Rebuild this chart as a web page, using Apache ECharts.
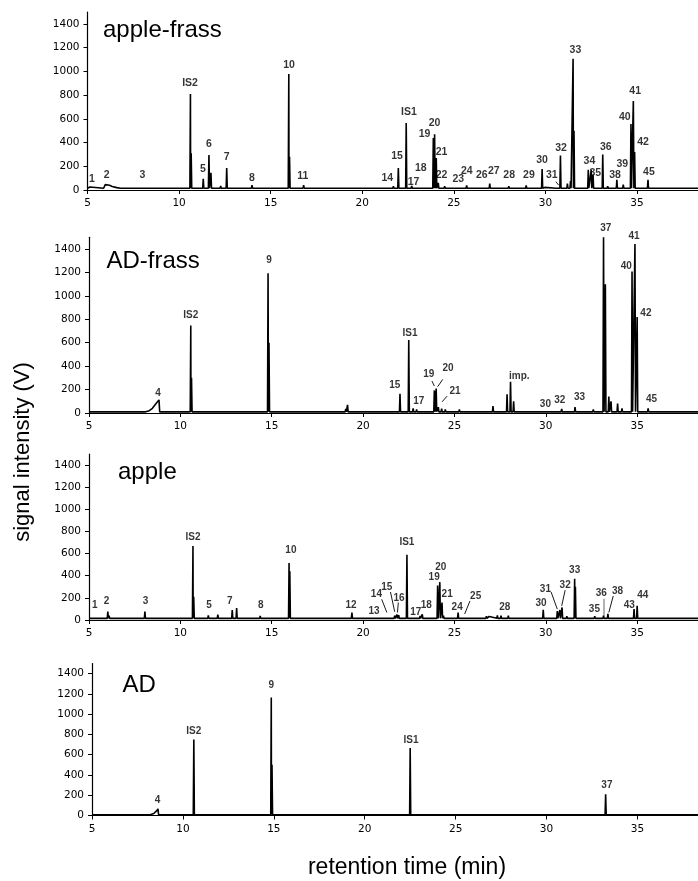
<!DOCTYPE html>
<html><head><meta charset="utf-8">
<script src="https://cdn.jsdelivr.net/npm/echarts@6/dist/echarts.min.js"></script>
<style>html,body{margin:0;padding:0;background:#fff}#c{width:698px;height:881px}</style>
</head><body><div id="c"></div>
<script>
// ---------- axis ticks ----------
const xTicks = [5, 10, 15, 20, 25, 30, 35];
const yTicks = [0, 200, 400, 600, 800, 1000, 1200, 1400];
const panelNames = ['apple-frass', 'AD-frass', 'apple', 'AD'];

// ---------- apple-frass ----------
const appleFrassBase = 15;
const appleFrassRT = [5.13, 7.98, 8.95, 9.9, 10.4, 10.62, 10.66, 11.32, 11.63, 11.74, 12.27, 12.6, 13.5, 13.98, 14.8, 15.99, 16.03, 16.8, 17.44, 18.2, 18.5, 19.0, 20.5, 21.1, 21.45, 21.7, 21.97, 22.4, 22.7, 23.05, 23.25, 23.88, 23.95, 24.04, 24.15, 24.5, 25.24, 25.7, 26.5, 26.8, 26.96, 28.0, 28.2, 28.95, 29.3, 29.82, 29.97, 30.6, 30.82, 31.2, 31.37, 31.51, 31.56, 32.34, 32.5, 32.6, 33.13, 33.4, 33.9, 34.25, 34.67, 34.8, 34.87, 35.2, 35.6, 36.2];
const appleFrassH  = [25, 28, 30, 22, 30, 810, 310, 95, 295, 145, 35, 185, 28, 40, 22, 978, 280, 40, 28, 22, 22, 20, 22, 22, 28, 32, 185, 565, 35, 25, 30, 438, 470, 270, 60, 32, 25, 38, 22, 25, 55, 32, 28, 38, 22, 177, 22, 30, 290, 55, 75, 1105, 500, 170, 170, 130, 300, 32, 85, 45, 556, 750, 320, 30, 85, 20];
const appleFrassHumpRT = [5.88, 5.97, 6.05, 6.2, 6.35, 6.6, 6.8];
const appleFrassHumpH  = [15, 45, 52, 40, 30, 20, 15];
const appleFrassLabelText = ['1', '2', '3', 'IS2', '5', '6', '7', '8', '10', '11', '14', '15', 'IS1', '17', '18', '19', '20', '21', '22', '23', '24', '26', '27', '28', '29', '30', '31', '32', '33', '34', '35', '36', '38', '39', '40', '41', '42', '45'];
const appleFrassLabelRT   = [5.24, 6.05, 8.0, 10.6, 11.3, 11.63, 12.6, 13.98, 16.0, 16.75, 21.37, 21.9, 22.55, 22.8, 23.2, 23.4, 23.95, 24.33, 24.33, 25.24, 25.71, 26.53, 27.18, 28.02, 29.1, 29.82, 30.35, 30.85, 31.64, 32.4, 32.72, 33.3, 33.8, 34.2, 34.33, 34.9, 35.33, 35.65];
const appleFrassLabelV    = [93, 126, 126, 900, 175, 390, 280, 100, 1050, 118, 100, 287, 655, 70, 185, 470, 565, 320, 126, 93, 160, 126, 160, 126, 126, 253, 126, 352, 1175, 245, 145, 365, 126, 215, 615, 835, 405, 150];
const appleFrassLeaders = [[30.57, 70, 30.72, 42]];

// ---------- AD-frass ----------
const adFrassBase = 10;
const adFrassRT = [10.57, 10.61, 14.8, 14.85, 16.48, 19.05, 19.15, 20.06, 20.97, 22.02, 22.5, 22.74, 22.93, 23.9, 23.95, 24.0, 24.12, 24.3, 24.5, 24.84, 25.27, 27.11, 27.88, 28.07, 28.24, 29.03, 29.86, 30.87, 31.6, 32.6, 33.16, 33.26, 33.45, 33.57, 33.93, 34.17, 34.72, 34.88, 35.0, 35.6];
const adFrassH  = [747, 300, 1193, 600, 25, 35, 70, 25, 20, 164, 624, 40, 30, 193, 185, 210, 50, 38, 30, 25, 30, 60, 160, 267, 100, 25, 25, 35, 50, 30, 1500, 1100, 140, 100, 80, 40, 1207, 1443, 819, 40];
const adFrassHumpRT = [8.1, 8.3, 8.47, 8.66, 8.83, 8.87];
const adFrassHumpH  = [10, 20, 40, 78, 112, 10];
const adFrassLabelText = ['4', 'IS2', '9', '15', 'IS1', '17', '19', '20', '21', 'imp.', '30', '32', '33', '37', '40', '41', '42', '45'];
const adFrassLabelRT   = [8.78, 10.57, 14.85, 21.73, 22.57, 23.05, 23.6, 24.65, 25.03, 28.55, 29.98, 30.77, 31.85, 33.28, 34.4, 34.83, 35.48, 35.79];
const adFrassLabelV    = [172, 834, 1302, 236, 681, 100, 330, 382, 187, 316, 78, 106, 135, 1580, 1250, 1509, 848, 115];
const adFrassLeaders = [[23.77, 273, 23.9, 230], [24.36, 287, 24.08, 224], [24.6, 144, 24.32, 95]];

// ---------- apple ----------
const appleBase = 15;
const appleRT = [5.15, 5.31, 5.5, 6.03, 6.1, 7.4, 8.06, 8.54, 10.69, 10.73, 11.53, 12.05, 12.84, 13.08, 14.37, 15.95, 15.99, 18.15, 19.39, 20.73, 21.3, 21.73, 21.85, 21.95, 22.4, 23.12, 23.24, 24.08, 24.2, 24.32, 24.4, 25.2, 25.56, 26.6, 26.75, 26.9, 27.35, 27.55, 27.95, 28.5, 29.4, 29.6, 29.86, 30.63, 30.77, 30.89, 31.15, 31.58, 31.62, 32.25, 32.68, 33.16, 33.4, 34.83, 35.0];
const appleH  = [25, 30, 20, 77, 40, 20, 77, 28, 669, 211, 42, 48, 89, 107, 38, 514, 440, 22, 68, 30, 32, 40, 48, 45, 589, 38, 52, 312, 342, 158, 40, 68, 28, 30, 35, 32, 42, 40, 40, 22, 25, 22, 92, 80, 90, 113, 35, 372, 300, 25, 35, 40, 55, 98, 128];
const appleHumpRT = [];
const appleHumpH  = [];
const appleLabelText = ['1', '2', '3', 'IS2', '5', '7', '8', '10', '12', '13', '14', '15', '16', 'IS1', '17', '18', '19', '20', '21', '24', '25', '28', '30', '31', '32', '33', '35', '36', '38', '43', '44'];
const appleLabelRT   = [5.31, 5.96, 8.1, 10.69, 11.57, 12.7, 14.4, 16.05, 19.34, 20.6, 20.73, 21.3, 21.97, 22.4, 22.88, 23.46, 23.89, 24.25, 24.6, 25.15, 26.16, 27.76, 29.74, 29.98, 31.06, 31.58, 32.66, 33.04, 33.93, 34.57, 35.31];
const appleLabelV    = [137, 166, 166, 752, 137, 172, 137, 633, 137, 77, 232, 297, 196, 707, 68, 137, 386, 476, 232, 119, 217, 113, 149, 276, 315, 446, 98, 241, 262, 137, 226];
const appleLeaders = [[21.02, 187, 21.3, 68], [21.5, 253, 21.73, 74], [21.93, 158, 21.88, 68], [25.85, 172, 25.56, 54], [30.29, 253, 30.63, 98], [31.06, 270, 30.87, 128], [33.69, 217, 33.45, 68]];
const appleGrayLeaders = [[33.16, 193, 33.16, 39]];

// ---------- AD ----------
const adBase = 8;
const adRT = [10.6, 14.86, 14.9, 22.5, 33.25];
const adH  = [750, 1165, 500, 666, 209];
const adHumpRT = [8.2, 8.4, 8.55, 8.63, 8.66];
const adHumpH  = [8, 20, 45, 65, 8];
const adLabelText = ['4', 'IS2', '9', 'IS1', '37'];
const adLabelRT   = [8.6, 10.6, 14.86, 22.55, 33.32];
const adLabelV    = [147, 829, 1289, 747, 297];
const adLeaders = [];

// ---------- build ----------
const X_MIN = 5, X_MAX = 38.33, Y_MAX = 1500;
const HALF = 0.03;
function trace(base, rt, h, hRT, hH) {
  const pts = [[X_MIN, base]];
  rt.forEach((t, i) => { pts.push([t - HALF, base], [t, h[i]], [t + HALF, base]); });
  hRT.forEach((t, i) => pts.push([t, hH[i]]));
  pts.push([X_MAX, base]);
  pts.sort((a, b) => a[0] - b[0]);
  return pts;
}
function labels(txt, rt, v) {
  return txt.map((s, i) => ({ name: s, value: [rt[i], v[i]] }));
}
function leaders(arr) {
  return arr.map(a => ({ coords: [[a[0], a[1]], [a[2], a[3]]] }));
}

const panels = [
  { tr: trace(appleFrassBase, appleFrassRT, appleFrassH, appleFrassHumpRT, appleFrassHumpH),
    lb: labels(appleFrassLabelText, appleFrassLabelRT, appleFrassLabelV), ld: leaders(appleFrassLeaders), gl: [], fs: 10.5 },
  { tr: trace(adFrassBase, adFrassRT, adFrassH, adFrassHumpRT, adFrassHumpH),
    lb: labels(adFrassLabelText, adFrassLabelRT, adFrassLabelV), ld: leaders(adFrassLeaders), gl: [], fs: 10 },
  { tr: trace(appleBase, appleRT, appleH, appleHumpRT, appleHumpH),
    lb: labels(appleLabelText, appleLabelRT, appleLabelV), ld: leaders(appleLeaders), gl: leaders(appleGrayLeaders), fs: 10 },
  { tr: trace(adBase, adRT, adH, adHumpRT, adHumpH),
    lb: labels(adLabelText, adLabelRT, adLabelV), ld: leaders(adLeaders), gl: [], fs: 10 }
];

const gridPos = [
  { left: 87.5, top: 12, width: 620, height: 178 },
  { left: 89, top: 237.3, width: 620, height: 175.7 },
  { left: 89, top: 454, width: 620, height: 166 },
  { left: 92, top: 663.5, width: 620, height: 152 }
];
const titlePos = [[103, 30.5], [106.5, 261.5], [118, 472.5], [122.5, 685]];

const tickFont = { fontFamily: 'DejaVu Sans', fontSize: 10.5, color: '#000', formatter: v => String(v) };
const grid = [], xAxis = [], yAxis = [], series = [], graphic = [];
panels.forEach((p, i) => {
  grid.push(Object.assign({ containLabel: false }, gridPos[i]));
  xAxis.push({
    type: 'value', gridIndex: i, min: X_MIN, max: X_MAX,
    splitLine: { show: false },
    axisLine: { show: true, onZero: false, lineStyle: { color: '#000', width: 1.2 } },
    axisTick: { show: true, length: 4, lineStyle: { color: '#000' }, customValues: xTicks },
    axisLabel: Object.assign({ margin: 8, customValues: xTicks }, tickFont)
  });
  yAxis.push({
    type: 'value', gridIndex: i, min: 0, max: Y_MAX,
    splitLine: { show: false },
    axisLine: { show: true, lineStyle: { color: '#000', width: 1.2 } },
    axisTick: { show: true, length: 4, lineStyle: { color: '#000' }, customValues: yTicks },
    axisLabel: Object.assign({ margin: 8, customValues: yTicks }, tickFont)
  });
  series.push({
    type: 'line', xAxisIndex: i, yAxisIndex: i, data: p.tr, showSymbol: false, symbol: 'none',
    lineStyle: { color: '#000', width: 1.6 }, clip: true, animation: false, z: 3
  });
  series.push({
    type: 'scatter', xAxisIndex: i, yAxisIndex: i, data: p.lb, symbolSize: 0.1, clip: false,
    itemStyle: { color: 'rgba(0,0,0,0)' }, animation: false, z: 5,
    label: { show: true, position: 'inside', formatter: '{b}', color: '#000',
      fontFamily: 'Liberation Sans', fontSize: p.fs, fontWeight: 'bold' }
  });
  if (p.ld.length) series.push({
    type: 'lines', coordinateSystem: 'cartesian2d', xAxisIndex: i, yAxisIndex: i, data: p.ld,
    lineStyle: { color: '#000', width: 0.9, opacity: 1 }, animation: false, z: 4
  });
  if (p.gl.length) series.push({
    type: 'lines', coordinateSystem: 'cartesian2d', xAxisIndex: i, yAxisIndex: i, data: p.gl,
    lineStyle: { color: '#999', width: 1.5, opacity: 1 }, animation: false, z: 2
  });
  graphic.push({ type: 'text', x: titlePos[i][0], y: titlePos[i][1],
    style: { text: panelNames[i], font: '24px "Liberation Sans"', fill: '#000', verticalAlign: 'middle', align: 'left' } });
});
graphic.push({ type: 'text', x: 23, y: 452, rotation: Math.PI / 2,
  style: { text: 'signal intensity (V)', font: '22px "Liberation Sans"', fill: '#000', verticalAlign: 'middle', align: 'center' } });
graphic.push({ type: 'text', x: 407, y: 868,
  style: { text: 'retention time (min)', font: '23px "Liberation Sans"', fill: '#000', verticalAlign: 'middle', align: 'center' } });

const chart = echarts.init(document.getElementById('c'), null, { renderer: 'canvas' });
chart.setOption({ backgroundColor: '#fff', animation: false, grid, xAxis, yAxis, series, graphic });
</script></body></html>
